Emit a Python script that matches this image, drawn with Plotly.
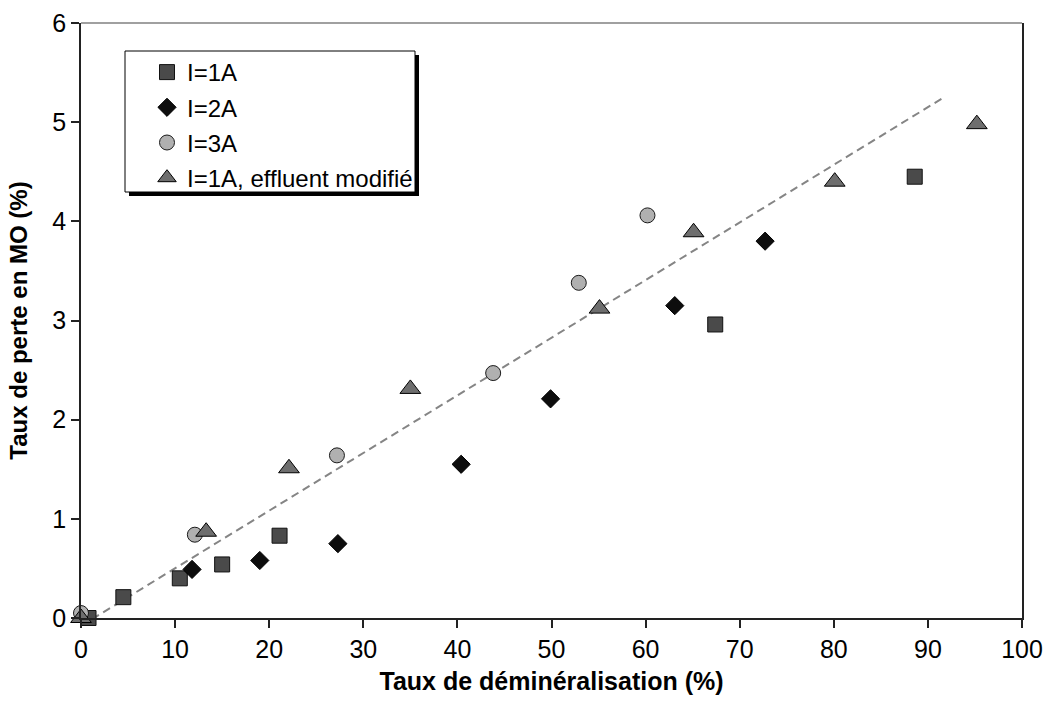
import plotly.graph_objects as go

# Data
i1_x = [0.8, 4.5, 10.5, 15.0, 21.1, 67.4, 88.6]
i1_y = [0.0, 0.21, 0.40, 0.54, 0.83, 2.96, 4.45]

i2_x = [11.8, 19.0, 27.3, 40.4, 49.9, 63.1, 72.7]
i2_y = [0.49, 0.58, 0.75, 1.55, 2.21, 3.15, 3.80]

i3_x = [0.0, 12.1, 27.2, 43.8, 52.9, 60.2]
i3_y = [0.05, 0.84, 1.64, 2.47, 3.38, 4.06]

mod_x = [0.0, 13.3, 22.1, 35.0, 55.1, 65.1, 80.1, 95.2]
mod_y = [0.0, 0.87, 1.51, 2.31, 3.12, 3.89, 4.40, 4.98]

trend_x = [0.0, 91.7]
trend_y = [-0.08, 5.25]

x_ticks = [0, 10, 20, 30, 40, 50, 60, 70, 80, 90, 100]
y_ticks = [0, 1, 2, 3, 4, 5, 6]

FONT = "Liberation Sans, Arial, sans-serif"

fig = go.Figure()

fig.add_trace(go.Scatter(
    x=trend_x, y=trend_y, mode="lines", showlegend=False, hoverinfo="skip",
    line=dict(color="#858585", width=2, dash="8px,5px")))

fig.add_trace(go.Scatter(
    x=i1_x, y=i1_y, mode="markers", name="I=1A", cliponaxis=False,
    legendgroup="a",
    marker=dict(symbol="square", size=15, color="#4a4a4a",
                line=dict(color="#111111", width=1))))
fig.add_trace(go.Scatter(
    x=i2_x, y=i2_y, mode="markers", name="I=2A", cliponaxis=False,
    legendgroup="b",
    marker=dict(symbol="diamond", size=14, color="#0d0d0d",
                line=dict(color="#000000", width=1))))
fig.add_trace(go.Scatter(
    x=i3_x, y=i3_y, mode="markers", name="I=3A", cliponaxis=False,
    legendgroup="c",
    marker=dict(symbol="circle", size=15, color="#b0b0b0",
                line=dict(color="#1a1a1a", width=1))))
fig.add_trace(go.Scatter(
    x=mod_x, y=mod_y, mode="markers", name="I=1A, effluent modifié", cliponaxis=False,
    legendgroup="d",
    marker=dict(symbol="triangle-up", size=18, color="#6e6e6e",
                line=dict(color="#000000", width=1))))

L, R, T, B = 81, 24, 23, 84
W, H = 1046, 702
pw, ph = W - L - R, H - T - B


def px(xp):
    return (xp - L) / pw


def py(yp):
    return (H - B - yp) / ph


shapes = [
    # top border of plot area (grey)
    dict(type="line", xref="paper", yref="paper", x0=0, x1=1, y0=1, y1=1,
         line=dict(color="#808080", width=1.5)),
    # legend shadow
    dict(type="rect", xref="paper", yref="paper",
         x0=px(129), x1=px(419), y0=py(196), y1=py(55),
         fillcolor="#000000", line=dict(width=0)),
    # legend box
    dict(type="rect", xref="paper", yref="paper",
         x0=px(125), x1=px(415), y0=py(192), y1=py(51),
         fillcolor="#ffffff", line=dict(color="#000000", width=1)),
]

fig.update_layout(
    width=W, height=H,
    margin=dict(l=L, r=R, t=T, b=B, autoexpand=False),
    paper_bgcolor="#ffffff", plot_bgcolor="#ffffff",
    font=dict(family=FONT, size=25, color="#000000"),
    shapes=shapes,
    legend=dict(x=px(147), y=py(50), xanchor="left", yanchor="top",
                bgcolor="rgba(0,0,0,0)", borderwidth=0,
                font=dict(family=FONT, size=24, color="#000000"),
                itemwidth=30, tracegroupgap=1, traceorder="grouped"),
    xaxis=dict(range=[0, 100], tickmode="array", tickvals=x_ticks,
               automargin=False,
               showgrid=False, zeroline=False, showline=True,
               linecolor="#222222", linewidth=1.5, mirror=False,
               ticks="outside", ticklen=8, tickcolor="#222222", tickwidth=1.5,
               tickfont=dict(family=FONT, size=25),
               title=dict(text="<b>Taux de déminéralisation (%)</b>",
                          font=dict(family=FONT, size=25), standoff=11)),
    yaxis=dict(range=[0, 6], tickmode="array", tickvals=y_ticks,
               automargin=False,
               showgrid=False, zeroline=False, showline=True,
               linecolor="#222222", linewidth=1.5, mirror=True,
               ticks="outside", ticklen=8, tickcolor="#222222", tickwidth=1.5,
               tickfont=dict(family=FONT, size=25),
               title=dict(text="<b>Taux de perte en MO (%)</b>",
                          font=dict(family=FONT, size=24), standoff=18)),
)

fig.write_html("out.html", config={"displayModeBar": False},
               post_script="document.body.style.margin='0';")
